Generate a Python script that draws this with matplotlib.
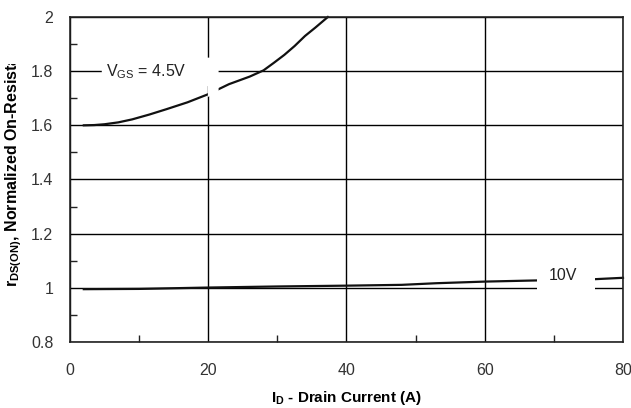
import matplotlib
matplotlib.use("Agg")
import matplotlib.pyplot as plt
from matplotlib.patches import Polygon, Rectangle
from matplotlib.transforms import Bbox

plt.rcParams['font.family'] = ['Liberation Sans', 'DejaVu Sans']
plt.rcParams['mathtext.fontset'] = 'custom'
plt.rcParams['mathtext.rm'] = 'Liberation Sans'
plt.rcParams['mathtext.bf'] = 'Liberation Sans:bold'
plt.rcParams['mathtext.it'] = 'Liberation Sans:italic'

# VGS = 4.5V curve
id_45 = [2, 3.5, 5, 7, 9, 11.5, 14, 17, 20, 23, 26, 28, 29.5, 31, 32.5, 34, 35.5, 37.3]
r_45 = [1.600, 1.601, 1.604, 1.611, 1.622, 1.640, 1.660, 1.685, 1.715, 1.752, 1.780, 1.803,
        1.831, 1.860, 1.893, 1.930, 1.961, 2.0]

# VGS = 10V curve
id_10 = [2, 10, 20, 30, 40, 48, 53, 60, 67, 76, 80]
r_10 = [0.995, 0.996, 1.001, 1.005, 1.008, 1.011, 1.017, 1.023, 1.027, 1.032, 1.037]

xticks = [0, 20, 40, 60, 80]
yticks = [0.8, 1.0, 1.2, 1.4, 1.6, 1.8, 2.0]
ylabels = ["0.8", "1", "1.2", "1.4", "1.6", "1.8", "2"]

fig = plt.figure(figsize=(6.31, 4.08), dpi=100)
ax = fig.add_axes([0.1109, 0.1618, 0.8764, 0.7965])

ax.plot(id_45, r_45, color='#111111', lw=1.6, zorder=2, clip_on=False)
ax.plot(id_10, r_10, color='#111111', lw=1.6, zorder=2, clip_on=False)

ax.set_xlim(0, 80)
ax.set_ylim(0.8, 2.0)
ax.set_xticks(xticks)
ax.set_xticklabels([str(v) for v in xticks])
ax.set_yticks(yticks)
ax.set_yticklabels(ylabels)
ax.set_xticks([10, 30, 50, 70], minor=True)
ax.set_yticks([0.9, 1.1, 1.3, 1.5, 1.7, 1.9], minor=True)
ax.tick_params(which='major', length=0, labelsize=11.5, labelcolor='#333333')
ax.tick_params(axis='y', which='major', pad=12)
ax.tick_params(axis='x', which='major', pad=15)
ax.tick_params(which='minor', direction='in', length=5, width=1, color='#222222')
ax.grid(True, which='major', color='black', lw=1)
ax.set_axisbelow(True)
for s in ax.spines.values():
    s.set_linewidth(1.2)
    s.set_color('#222222')

# white label boxes that break the grid and curves
ax.add_patch(Polygon([(4.6, 1.745), (4.6, 1.85), (21.5, 1.85), (21.5, 1.72),
                      (19.95, 1.705), (19.95, 1.745)],
                     closed=True, facecolor='white', edgecolor='none', zorder=3))
ax.add_patch(Rectangle((67.6, 0.985), 8.4, 0.08, facecolor='white',
                       edgecolor='none', zorder=3))

ax.text(5.2, 1.8, r"V$_{\mathrm{GS}}$ = 4.5V", fontsize=11.5, color='#222222',
        ha='left', va='center', zorder=4)
ax.text(69.2, 1.045, "10V", fontsize=11.5, color='#222222',
        ha='left', va='center', zorder=4)

fig.text(0.549, 10 / 408, r"$\mathbf{I_D}$ - Drain Current (A)", fontsize=11,
         fontweight='bold', ha='center', va='center')
yl = fig.text(14 / 631, (408 - 287) / 408,
              r"$\mathbf{r_{DS(ON)}}$, Normalized On-Resistance",
              fontsize=11.5, fontweight='bold', rotation=90,
              ha='center', va='bottom')
yl.set_clip_box(Bbox.from_extents(0, 0, 631, 408 - 64))
yl.set_clip_on(True)

fig.savefig("out.png", dpi=100)
